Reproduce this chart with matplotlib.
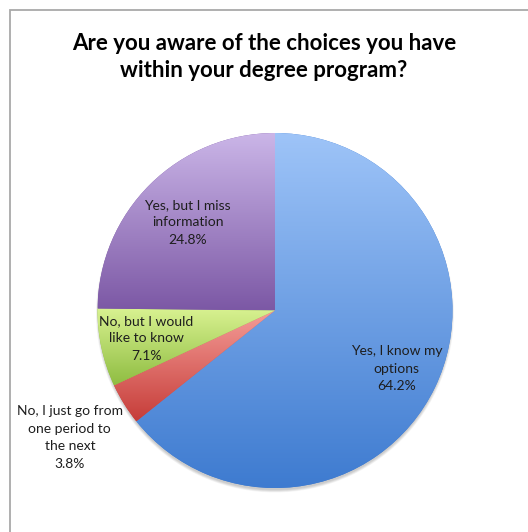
import numpy as np
import matplotlib.pyplot as plt
from matplotlib.colors import LinearSegmentedColormap
from matplotlib.patches import Circle

# ---------------------------------------------------------------
# Datos
# ---------------------------------------------------------------
titulo = 'Are you aware of the choices you have\nwithin your degree program?'
categorias = [
    'Yes, I know my\noptions',
    'No, I just go from\none period to\nthe next',
    'No, but I would\nlike to know',
    'Yes, but I miss\ninformation',
]
porcentajes = [64.2, 3.8, 7.1, 24.8]

# degradado vertical (arriba, abajo) por porción
colores = [
    ('#9ec4f8', '#3e7bd0'),
    ('#f59d98', '#c63d39'),
    ('#d9f291', '#8fbd42'),
    ('#cbb6e8', '#7c58a5'),
]
# distancia radial de cada etiqueta (fracción del radio)
dist_etiqueta = [0.76, 1.36, 0.74, 0.70]

FUENTE = 'Lato'
W, H = 528, 532
CX, CY, R = 275, H - 310.5, 177.5

fig = plt.figure(figsize=(W / 100, H / 100), dpi=100, facecolor='white')
ax = fig.add_axes([0, 0, 1, 1])

# marco gris (solo se ven los bordes superior e izquierdo)
ax.plot([10, 10, W + 5], [-5, H - 10, H - 10], color='#a9a9a9', lw=1.3,
        solid_joinstyle='miter')

# sombra suave bajo la tarta
for k in range(6):
    ax.add_patch(Circle((CX, CY - 3), R + 1.5 - k * 0.5, color='#000000',
                        alpha=0.035, lw=0, zorder=1))

wedges, _ = ax.pie(porcentajes, startangle=90, counterclock=False,
                   center=(CX, CY), radius=R, frame=True,
                   wedgeprops=dict(linewidth=0))

grad = np.linspace(0, 1, 256).reshape(-1, 1)
for w, (c_top, c_bot) in zip(wedges, colores):
    w.set_facecolor(c_bot)
    w.set_zorder(2)
    bb = w.get_path().get_extents()
    cmap = LinearSegmentedColormap.from_list('g', [c_top, c_bot])
    im = ax.imshow(grad, cmap=cmap, aspect='auto', origin='upper',
                   extent=[bb.x0, bb.x1, bb.y0, bb.y1], zorder=3,
                   interpolation='bilinear')
    im.set_clip_path(w)

ax.set_xlim(0, W)
ax.set_ylim(0, H)
ax.set_aspect('auto')
ax.axis('off')

# etiquetas con nombre y porcentaje
for w, cat, pct, d in zip(wedges, categorias, porcentajes, dist_etiqueta):
    ang = np.deg2rad((w.theta1 + w.theta2) / 2)
    x = CX + d * R * np.cos(ang)
    y = CY + d * R * np.sin(ang)
    ax.text(x, y, f'{cat}\n{pct:.1f}%', ha='center', va='center',
            fontsize=10, family=FUENTE, color='#1e1e1e', linespacing=1.55,
            zorder=5)

fig.text(264 / W, 1 - 57 / H, titulo, ha='center', va='center',
         fontsize=16, fontweight='bold', family=FUENTE, color='#000000',
         linespacing=1.38)

fig.savefig('out.png', dpi=100, facecolor='white')
